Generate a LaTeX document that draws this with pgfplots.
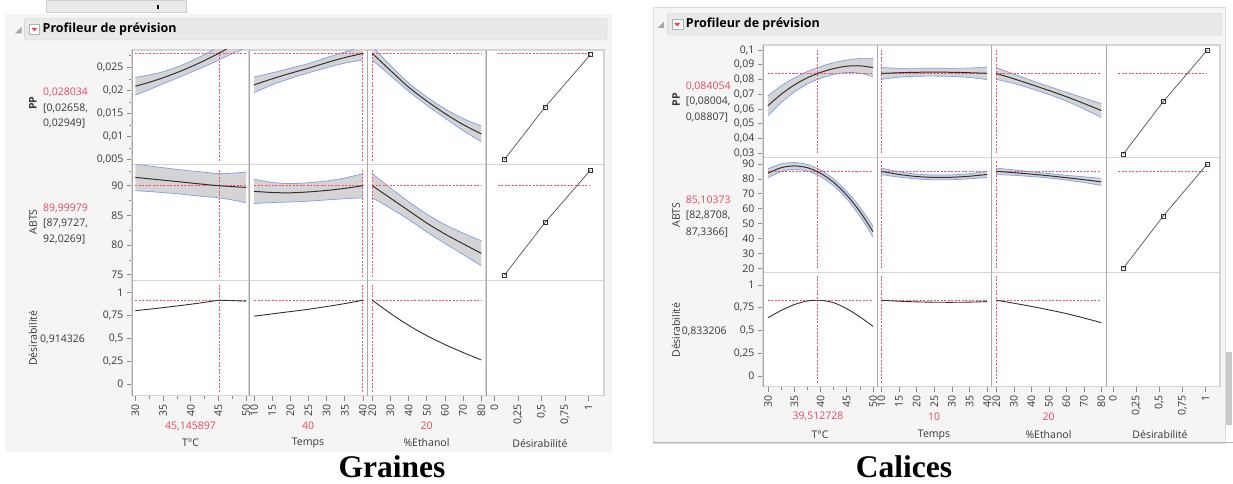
\documentclass[border=0pt]{standalone}
\usepackage{fontspec}
\usepackage{pgfplots}
\usepackage{pgfplotstable}
\pgfplotsset{compat=1.18}
\setmainfont{Open Sans}
\newfontfamily\capf{Liberation Serif}
\newcommand{\tf}{\fontsize{10.5}{12}\selectfont}
\definecolor{panelbg}{RGB}{245,245,245}
\definecolor{headbg}{RGB}{233,233,233}
\definecolor{headbd}{RGB}{208,208,208}
\definecolor{framegray}{RGB}{212,212,212}
\definecolor{sepgray}{RGB}{170,170,170}
\definecolor{tickgray}{RGB}{140,140,140}
\definecolor{labcol}{RGB}{55,55,55}
\definecolor{refred}{RGB}{242,80,100}
\definecolor{redtxt}{RGB}{232,72,92}
\definecolor{bandfill}{RGB}{212,212,212}
\definecolor{bandedge}{RGB}{125,158,235}
\definecolor{curvecol}{RGB}{50,50,50}
\definecolor{blueline}{RGB}{170,180,200}
\definecolor{scrollc}{RGB}{200,200,200}

% ---------------- data : Graines ----------------
\pgfplotstableread{
x pp ppl ppu ab abl abu d
30 0.02090 0.01900 0.02280 91.40 89.15 93.65 0.800
32.5 0.02175 0.02015 0.02335 91.17 89.02 93.32 0.816
35 0.02273 0.02143 0.02403 90.93 88.83 93.03 0.833
37.5 0.02385 0.02265 0.02505 90.70 88.65 92.75 0.851
40 0.02510 0.02390 0.02630 90.45 88.40 92.50 0.870
42.5 0.02648 0.02518 0.02778 90.22 88.17 92.27 0.891
45 0.02800 0.02655 0.02945 90.00 87.97 92.03 0.914
47.5 0.02965 0.02795 0.03135 89.85 87.60 92.10 0.910
50 0.03140 0.02930 0.03350 89.70 87.10 92.30 0.904
}\GT
\pgfplotstableread{
x pp ppl ppu ab abl abu d
10 0.0212 0.0195 0.0229 89.05 87.00 91.10 0.740
15 0.0225 0.0212 0.0238 88.85 87.15 90.55 0.765
20 0.0237 0.0226 0.0248 88.80 87.25 90.35 0.790
25 0.0248 0.0238 0.0258 88.95 87.40 90.50 0.815
30 0.0260 0.0249 0.0271 89.20 87.60 90.80 0.845
35 0.0271 0.0259 0.0283 89.55 87.80 91.30 0.877
40 0.0280 0.02655 0.02945 90.00 87.97 92.03 0.914
}\GM
\pgfplotstableread{
x pp ppl ppu ab abl abu d
20 0.0280 0.02655 0.02945 90.00 87.97 92.03 0.914
30 0.0243 0.0232 0.0254 87.90 86.20 89.60 0.770
40 0.0207 0.0198 0.0216 85.80 84.30 87.30 0.640
50 0.0177 0.0168 0.0186 83.70 82.20 85.20 0.527
60 0.0150 0.0140 0.0160 81.85 80.25 83.45 0.430
70 0.0126 0.0113 0.0139 80.20 78.40 82.00 0.343
80 0.0106 0.0089 0.0123 78.60 76.50 80.70 0.262
}\GE
\pgfplotstableread{
d y
0.106 0.0050
0.538 0.0164
1.018 0.0277
}\GDP
\pgfplotstableread{
d y
0.106 74.9
0.538 83.8
1.018 92.6
}\GDA
% ---------------- data : Calices ----------------
\pgfplotstableread{
x pp ppl ppu ab abl abu d
30 0.0623 0.0556 0.0690 83.8 80.8 86.8 0.640
32.5 0.0700 0.0643 0.0757 87.5 84.9 90.1 0.720
35 0.0763 0.0715 0.0811 88.7 86.4 91.0 0.785
37.5 0.0812 0.0770 0.0854 87.5 85.3 89.7 0.825
40 0.0848 0.0808 0.0888 83.8 81.6 86.0 0.832
42.5 0.0874 0.0834 0.0914 77.7 75.4 80.0 0.805
45 0.0890 0.0848 0.0932 69.1 66.6 71.6 0.740
47.5 0.0893 0.0843 0.0943 58.1 55.1 61.1 0.650
50 0.0881 0.0819 0.0943 44.6 41.1 48.1 0.545
}\CT
\pgfplotstableread{
x pp ppl ppu ab abl abu d
10 0.0841 0.0801 0.0881 85.1 82.9 87.3 0.833
15 0.0846 0.0816 0.0876 83.0 81.2 84.8 0.822
20 0.0849 0.0822 0.0876 81.6 80.0 83.2 0.815
25 0.0850 0.0823 0.0877 81.0 79.4 82.6 0.811
30 0.0849 0.0821 0.0877 81.1 79.5 82.7 0.810
35 0.0846 0.0814 0.0878 81.8 80.1 83.5 0.812
40 0.0842 0.0799 0.0885 83.0 81.0 85.0 0.818
}\CM
\pgfplotstableread{
x pp ppl ppu ab abl abu d
20 0.0841 0.0801 0.0881 85.1 82.9 87.3 0.833
30 0.0805 0.0773 0.0837 84.2 82.4 86.0 0.800
40 0.0766 0.0738 0.0794 83.2 81.6 84.8 0.765
50 0.0726 0.0699 0.0753 82.1 80.6 83.6 0.727
60 0.0684 0.0654 0.0714 80.8 79.2 82.4 0.686
70 0.0638 0.0601 0.0675 79.5 77.6 81.4 0.638
80 0.0590 0.0543 0.0637 78.0 75.6 80.4 0.586
}\CE
\pgfplotstableread{
d y
0.111 0.0295
0.543 0.0650
1.018 0.1000
}\CDP
\pgfplotstableread{
d y
0.111 20.0
0.543 55.1
1.018 90.0
}\CDA

\tikzset{
 band/.style={draw=none, fill=bandfill},
 bedge/.style={color=bandedge, line width=0.7pt, smooth},
 mean/.style={color=curvecol, line width=1pt, smooth},
 dcurve/.style={color=curvecol, line width=0.9pt},
 refl/.style={color=refred, draw=refred, line width=1.05pt, dash pattern=on 2pt off 1.5pt},
 dline/.style={color=curvecol!85, line width=0.7pt, mark=square, mark size=2pt, mark options={solid, fill=white, draw=curvecol}},
}
\pgfplotsset{
 cell/.style={scale only axis, anchor=south west,
   axis line style={draw=framegray, line width=1.1pt},
   axis background/.style={fill=white},
   xtick=\empty, ytick=\empty, scaled x ticks=false, scaled y ticks=false,
   tick align=outside, major tick length=5pt, minor tick length=3pt,
   tick style={color=tickgray, line width=0.6pt},
   tick label style={font=\tf, text=labcol},
   xticklabel style={rotate=90, anchor=east},
   xtick pos=left, ytick pos=left, clip=true},
 LT/.style={xmin=29.4,xmax=50.5}, LM/.style={xmin=8.62,xmax=41.2},
 LE/.style={xmin=17.25,xmax=82.6}, LD/.style={xmin=-0.088,xmax=1.163},
 LP/.style={ymin=0.00392,ymax=0.02874}, LA/.style={ymin=73.98,ymax=93.54},
 LDY/.style={ymin=-0.128,ymax=1.127},
 RT/.style={xmin=29.05,xmax=50.82}, RM/.style={xmin=8.87,xmax=41.16},
 RE/.style={xmin=17.14,xmax=82.86}, RD/.style={xmin=-0.072,xmax=1.156},
 RP/.style={ymin=0.0273,ymax=0.1034}, RA/.style={ymin=17.3,ymax=94.5},
 RDY/.style={ymin=-0.118,ymax=1.14},
 tT/.style={xtick={30,35,40,45,50}, minor xtick={32.5,37.5,42.5,47.5}, xticklabels={30,35,40,45,50}},
 tM/.style={xtick={10,15,20,25,30,35,40}, xticklabels={10,15,20,25,30,35,40}},
 tE/.style={xtick={20,30,40,50,60,70,80}, xticklabels={20,30,40,50,60,70,80}},
 tD/.style={xtick={0,0.25,0.5,0.75,1}, xticklabels={0,{0,25},{0,5},{0,75},1}},
 tLP/.style={ytick={0.005,0.01,0.015,0.02,0.025}, yticklabels={{0,005},{0,01},{0,015},{0,02},{0,025}}, minor ytick={0.0075,0.0125,0.0175,0.0225,0.0275}},
 tLA/.style={ytick={75,80,85,90}, yticklabels={75,80,85,90}, minor ytick={77.5,82.5,87.5,92.5}},
 tDY/.style={ytick={0,0.25,0.5,0.75,1}, yticklabels={0,{0,25},{0,5},{0,75},1}},
 tRP/.style={ytick={0.03,0.04,0.05,0.06,0.07,0.08,0.09,0.1}, yticklabels={{0,03},{0,04},{0,05},{0,06},{0,07},{0,08},{0,09},{0,1}}},
 tRA/.style={ytick={20,30,40,50,60,70,80,90}, yticklabels={20,30,40,50,60,70,80,90}},
}
% vertical reference line at x=#1
\newcommand{\vref}[1]{\draw[refl] ({axis cs:#1,0}|-{rel axis cs:0,0.035}) -- ({axis cs:#1,0}|-{rel axis cs:0,0.965});}
% horizontal reference line from x=#1 to x=#2 at y=#3
\newcommand{\href}[3]{\draw[refl] (axis cs:#1,#3) -- (axis cs:#2,#3);}
\newcommand{\bandplot}[3]{%
 \addplot[draw=none, stack plots=y, forget plot] table[x=x,y=#2]{#1};
 \addplot[band, stack plots=y, forget plot] table[x=x,y expr=\thisrow{#3}-\thisrow{#2}]{#1} \closedcycle;
 \addplot[bedge] table[x=x,y=#3]{#1};
 \addplot[bedge] table[x=x,y=#2]{#1};}

\begin{document}
\begin{tikzpicture}
\fill[white] (0,0) rectangle (1233pt,484pt);
% ---------- panel backgrounds ----------
\fill[panelbg] (5pt,32pt) rectangle (612pt,470pt);
\filldraw[fill=headbg, draw=headbd] (46pt,472pt) rectangle (186pt,484pt);
\fill[black] (157pt,475pt) rectangle (159pt,479pt);
\filldraw[fill=panelbg, draw=headbd!70] (653pt,41pt) rectangle (1225pt,477pt);
\draw[blueline, line width=1pt] (653pt,41pt) -- (1233pt,41pt);
\fill[scrollc] (1226pt,59pt) rectangle (1232pt,132pt);
% ---------- headers ----------
\filldraw[fill=headbg, draw=headbd, rounded corners=1.5pt] (24.3pt,444pt) rectangle (607pt,465.7pt);
\fill[gray!70] (15pt,450.7pt) -- (21.7pt,450.7pt) -- (21.7pt,457.3pt) -- cycle;
\filldraw[fill=white, draw=gray!60] (29.3pt,449.5pt) rectangle (39.3pt,459.5pt);
\fill[redtxt] (31.3pt,456.2pt) -- (37.3pt,456.2pt) -- (34.3pt,452.6pt) -- cycle;
\node[anchor=west, inner sep=0pt, font=\bfseries\fontsize{12.5}{14}\selectfont] at (42.5pt,454.7pt) {Profileur de prévision};
\filldraw[fill=headbg, draw=headbd, rounded corners=1.5pt] (667.3pt,449pt) rectangle (1222pt,470.7pt);
\fill[gray!70] (657.5pt,456pt) -- (664pt,456pt) -- (664pt,462.5pt) -- cycle;
\filldraw[fill=white, draw=gray!60] (671.7pt,454.3pt) rectangle (682.7pt,464.8pt);
\fill[redtxt] (674pt,461.2pt) -- (680.4pt,461.2pt) -- (677.2pt,457.4pt) -- cycle;
\node[anchor=west, inner sep=0pt, font=\bfseries\fontsize{12.5}{14}\selectfont] at (685.7pt,459.7pt) {Profileur de prévision};

% ================= GRAINES =================
% row 1 : PP
\begin{axis}[cell, at={(132pt,319.3pt)}, width=117pt, height=114.7pt, LT, LP, tLP]
\bandplot{\GT}{ppl}{ppu}
\href{30}{50}{0.028034}
\vref{45.146}
\addplot[mean] table[x=x,y=pp]{\GT};
\end{axis}
\begin{axis}[cell, at={(249pt,319.3pt)}, width=118.3pt, height=114.7pt, LM, LP]
\bandplot{\GM}{ppl}{ppu}
\href{10}{40}{0.028034}
\vref{40}
\addplot[mean] table[x=x,y=pp]{\GM};
\end{axis}
\begin{axis}[cell, at={(367.3pt,319.3pt)}, width=118.7pt, height=114.7pt, LE, LP]
\bandplot{\GE}{ppl}{ppu}
\href{20}{80}{0.028034}
\vref{20}
\addplot[mean] table[x=x,y=pp]{\GE};
\end{axis}
\begin{axis}[cell, at={(486pt,319.3pt)}, width=118pt, height=114.7pt, LD, LP]
\href{0.036}{1.015}{0.028034}
\addplot[dline] table[x=d,y=y]{\GDP};
\end{axis}
% row 2 : ABTS
\begin{axis}[cell, at={(132pt,203.3pt)}, width=117pt, height=116pt, LT, LA, tLA]
\bandplot{\GT}{abl}{abu}
\href{30}{50}{89.99979}
\vref{45.146}
\addplot[mean] table[x=x,y=ab]{\GT};
\end{axis}
\begin{axis}[cell, at={(249pt,203.3pt)}, width=118.3pt, height=116pt, LM, LA]
\bandplot{\GM}{abl}{abu}
\href{10}{40}{89.99979}
\vref{40}
\addplot[mean] table[x=x,y=ab]{\GM};
\end{axis}
\begin{axis}[cell, at={(367.3pt,203.3pt)}, width=118.7pt, height=116pt, LE, LA]
\bandplot{\GE}{abl}{abu}
\href{20}{80}{89.99979}
\vref{20}
\addplot[mean] table[x=x,y=ab]{\GE};
\end{axis}
\begin{axis}[cell, at={(486pt,203.3pt)}, width=118pt, height=116pt, LD, LA]
\href{0.036}{1.015}{89.99979}
\addplot[dline] table[x=d,y=y]{\GDA};
\end{axis}
% row 3 : Desirabilite
\begin{axis}[cell, at={(132pt,88.3pt)}, width=117pt, height=115pt, LT, LDY, tDY, tT]
\href{30}{50}{0.914326}
\vref{45.146}
\addplot[dcurve] table[x=x,y=d]{\GT};
\end{axis}
\begin{axis}[cell, at={(249pt,88.3pt)}, width=118.3pt, height=115pt, LM, LDY, tM]
\href{10}{40}{0.914326}
\vref{40}
\addplot[dcurve, smooth] table[x=x,y=d]{\GM};
\end{axis}
\begin{axis}[cell, at={(367.3pt,88.3pt)}, width=118.7pt, height=115pt, LE, LDY, tE]
\href{20}{80}{0.914326}
\vref{20}
\addplot[dcurve, smooth] table[x=x,y=d]{\GE};
\end{axis}
\begin{axis}[cell, at={(486pt,88.3pt)}, width=118pt, height=115pt, LD, LDY, tD]
\end{axis}
\draw[sepgray, line width=0.9pt] (132pt,88.3pt) -- (132pt,434pt);
\foreach \xx in {249,367.3,486} {\draw[sepgray, line width=0.9pt] (\xx pt,88.3pt) -- (\xx pt,434pt);}

% ================= CALICES =================
\begin{axis}[cell, at={(763pt,326.7pt)}, width=114.3pt, height=112.3pt, RT, RP, tRP]
\bandplot{\CT}{ppl}{ppu}
\href{30}{50}{0.084054}
\vref{39.512728}
\addplot[mean] table[x=x,y=pp]{\CT};
\end{axis}
\begin{axis}[cell, at={(877.3pt,326.7pt)}, width=114pt, height=112.3pt, RM, RP]
\bandplot{\CM}{ppl}{ppu}
\href{10}{40}{0.084054}
\vref{10}
\addplot[mean] table[x=x,y=pp]{\CM};
\end{axis}
\begin{axis}[cell, at={(991.3pt,326.7pt)}, width=115pt, height=112.3pt, RE, RP]
\bandplot{\CE}{ppl}{ppu}
\href{20}{80}{0.084054}
\vref{20}
\addplot[mean] table[x=x,y=pp]{\CE};
\end{axis}
\begin{axis}[cell, at={(1106.3pt,326.7pt)}, width=113.7pt, height=112.3pt, RD, RP]
\href{0.055}{1.02}{0.084054}
\addplot[dline] table[x=d,y=y]{\CDP};
\end{axis}
% row 2
\begin{axis}[cell, at={(763pt,211.7pt)}, width=114.3pt, height=115pt, RT, RA, tRA]
\bandplot{\CT}{abl}{abu}
\href{30}{50}{85.10373}
\vref{39.512728}
\addplot[mean] table[x=x,y=ab]{\CT};
\end{axis}
\begin{axis}[cell, at={(877.3pt,211.7pt)}, width=114pt, height=115pt, RM, RA]
\bandplot{\CM}{abl}{abu}
\href{10}{40}{85.10373}
\vref{10}
\addplot[mean] table[x=x,y=ab]{\CM};
\end{axis}
\begin{axis}[cell, at={(991.3pt,211.7pt)}, width=115pt, height=115pt, RE, RA]
\bandplot{\CE}{abl}{abu}
\href{20}{80}{85.10373}
\vref{20}
\addplot[mean] table[x=x,y=ab]{\CE};
\end{axis}
\begin{axis}[cell, at={(1106.3pt,211.7pt)}, width=113.7pt, height=115pt, RD, RA]
\href{0.055}{1.02}{85.10373}
\addplot[dline] table[x=d,y=y]{\CDA};
\end{axis}
% row 3
\begin{axis}[cell, at={(763pt,97.3pt)}, width=114.3pt, height=114.4pt, RT, RDY, tDY, tT]
\href{30}{50}{0.833206}
\vref{39.512728}
\addplot[dcurve, smooth] table[x=x,y=d]{\CT};
\end{axis}
\begin{axis}[cell, at={(877.3pt,97.3pt)}, width=114pt, height=114.4pt, RM, RDY, tM]
\href{10}{40}{0.833206}
\vref{10}
\addplot[dcurve, smooth] table[x=x,y=d]{\CM};
\end{axis}
\begin{axis}[cell, at={(991.3pt,97.3pt)}, width=115pt, height=114.4pt, RE, RDY, tE]
\href{20}{80}{0.833206}
\vref{20}
\addplot[dcurve, smooth] table[x=x,y=d]{\CE};
\end{axis}
\begin{axis}[cell, at={(1106.3pt,97.3pt)}, width=113.7pt, height=114.4pt, RD, RDY, tD]
\end{axis}
\draw[sepgray, line width=0.9pt] (763pt,97.3pt) -- (763pt,439pt);
\foreach \xx in {877.3,991.3,1106.3} {\draw[sepgray, line width=0.9pt] (\xx pt,97.3pt) -- (\xx pt,439pt);}

% ---------- row labels and values ----------
\begin{scope}[every node/.style={font=\tf, text=labcol, inner sep=0pt}]
\node[rotate=90, font=\tf\bfseries] at (33pt,380.7pt) {PP};
\node[anchor=west, text=redtxt] at (43pt,391.3pt) {0,028034};
\node[anchor=west] at (43pt,375.7pt) {[0,02658,};
\node[anchor=west] at (43pt,360pt) {0,02949]};
\node[rotate=90] at (33pt,262.3pt) {ABTS};
\node[anchor=west, text=redtxt] at (43pt,276pt) {89,99979};
\node[anchor=west] at (43pt,260pt) {[87,9727,};
\node[anchor=west] at (43pt,244pt) {92,0269]};
\node[rotate=90] at (33pt,145.7pt) {Désirabilité};
\node[anchor=west] at (40pt,144.7pt) {0,914326};
\node[text=redtxt] at (190.5pt,58pt) {45,145897};
\node at (190.5pt,41.3pt) {T°C};
\node[text=redtxt] at (308pt,58pt) {40};
\node at (308pt,41.3pt) {Temps};
\node[text=redtxt] at (426.5pt,58pt) {20};
\node at (426.5pt,41.3pt) {\%Ethanol};
\node at (540pt,40.5pt) {Désirabilité};
%
\node[rotate=90, font=\tf\bfseries] at (676pt,384pt) {PP};
\node[anchor=west, text=redtxt] at (685.7pt,397.3pt) {0,084054};
\node[anchor=west] at (685.7pt,382.3pt) {[0,08004,};
\node[anchor=west] at (685.7pt,366.7pt) {0,08807]};
\node[rotate=90] at (676pt,269pt) {ABTS};
\node[anchor=west, text=redtxt] at (685.7pt,283.3pt) {85,10373};
\node[anchor=west] at (685.7pt,268.3pt) {[82,8708,};
\node[anchor=west] at (685.7pt,251.7pt) {87,3366]};
\node[rotate=90] at (676pt,154pt) {Désirabilité};
\node[anchor=west] at (681.7pt,153pt) {0,833206};
\node[text=redtxt] at (818pt,67.3pt) {39,512728};
\node at (820pt,49pt) {T°C};
\node[text=redtxt] at (934pt,67.3pt) {10};
\node at (934pt,49pt) {Temps};
\node[text=redtxt] at (1048.5pt,67.3pt) {20};
\node at (1048.5pt,49pt) {\%Ethanol};
\node at (1160pt,49pt) {Désirabilité};
\end{scope}
% ---------- captions ----------
\node[anchor=base, inner sep=0pt, font=\capf\bfseries\fontsize{31.5}{34}\selectfont] at (392pt,6pt) {Graines};
\node[anchor=base, inner sep=0pt, font=\capf\bfseries\fontsize{31.5}{34}\selectfont] at (904pt,6pt) {Calices};
\pgfresetboundingbox
\path[use as bounding box] (0,0) rectangle (1233pt,484pt);
\end{tikzpicture}
\end{document}
